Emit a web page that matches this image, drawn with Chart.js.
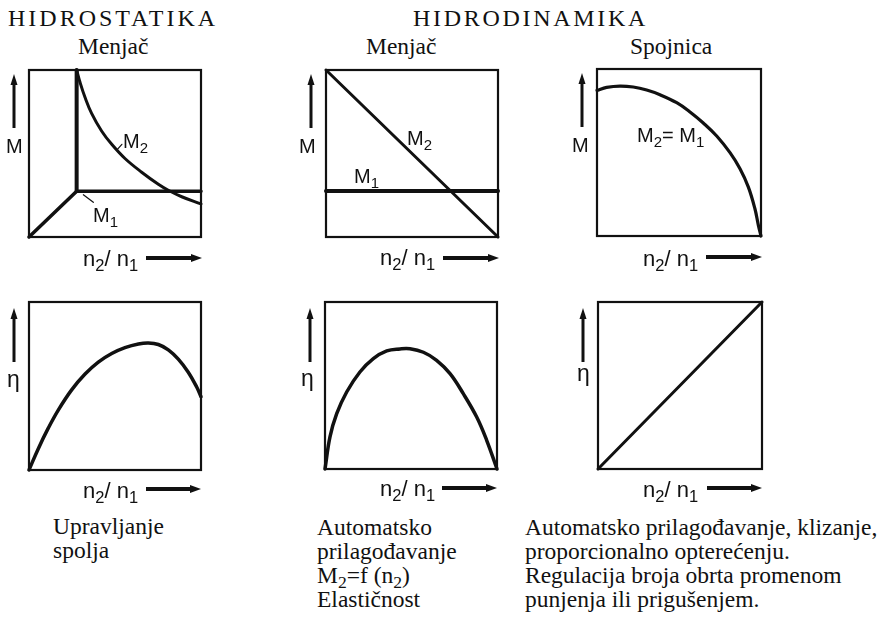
<!DOCTYPE html>
<html>
<head>
<meta charset="utf-8">
<script src="https://cdn.jsdelivr.net/npm/chart.js@4.4.0/dist/chart.umd.min.js"></script>
<style>
  html, body { margin: 0; padding: 0; background: #fff; }
  #wrap { position: relative; width: 878px; height: 621px; overflow: hidden; background: #fff; }
  #wrap canvas { position: absolute; }
  .t { position: absolute; white-space: nowrap; color: #111; }
  .t sub { font-size: 0.75em; vertical-align: -0.3em; line-height: 0; }
</style>
</head>
<body>
<div id="wrap"></div>
<script>
// ---------------- DATA (normalised 0..1 within each panel) ----------------
// Panel 1 – Hidrostatika, Menjač, torque M vs n2/n1
const p1_M1_x = [0, 0.277, 1.0];
const p1_M1_y = [0, 0.274, 0.274];
const p1_vert_x = [0.277, 0.277];
const p1_vert_y = [0.274, 1.0];
const p1_M2_x = [0.277, 0.297, 0.326, 0.364, 0.422, 0.481, 0.558, 0.655, 0.752, 0.810, 0.888, 1.0];
const p1_M2_y = [1.0, 0.925, 0.835, 0.740, 0.635, 0.555, 0.470, 0.388, 0.316, 0.280, 0.241, 0.198];
const p1_lead2_x = [0.51, 0.54];
const p1_lead2_y = [0.52, 0.555];
const p1_lead1_x = [0.316, 0.374];
const p1_lead1_y = [0.253, 0.208];

// Panel 2 – Hidrodinamika, Menjač
const p2_M2_x = [0, 1.0];
const p2_M2_y = [1.0, 0];
const p2_M1_x = [0, 1.0];
const p2_M1_y = [0.275, 0.275];

// Panel 3 – Hidrodinamika, Spojnica (M2 = M1)
const p3_M_x = [0, 0.059, 0.140, 0.221, 0.303, 0.384, 0.486, 0.567, 0.648, 0.730, 0.811, 0.872, 0.923, 0.963, 0.984, 1.0];
const p3_M_y = [0.872, 0.890, 0.898, 0.892, 0.874, 0.846, 0.798, 0.743, 0.677, 0.599, 0.499, 0.403, 0.293, 0.163, 0.064, 0.0];

// Panel 4 – efficiency, Hidrostatika
const p4_eta_x = [0, 0.054, 0.112, 0.171, 0.248, 0.326, 0.403, 0.481, 0.558, 0.636, 0.694, 0.752, 0.810, 0.868, 0.926, 0.975, 1.0];
const p4_eta_y = [0, 0.127, 0.249, 0.358, 0.477, 0.571, 0.642, 0.693, 0.728, 0.750, 0.756, 0.747, 0.715, 0.660, 0.582, 0.494, 0.436];

// Panel 5 – efficiency, Hidrodinamika Menjač
const p5_eta_x = [0, 0.029, 0.068, 0.126, 0.203, 0.281, 0.359, 0.436, 0.494, 0.572, 0.649, 0.727, 0.804, 0.882, 0.940, 1.0];
const p5_eta_y = [0, 0.192, 0.331, 0.461, 0.581, 0.661, 0.707, 0.719, 0.720, 0.699, 0.651, 0.571, 0.451, 0.311, 0.172, 0];

// Panel 6 – efficiency, Spojnica
const p6_eta_x = [0, 1.0];
const p6_eta_y = [0, 1.0];

// Text
const titles = ['HIDROSTATIKA', 'HIDRODINAMIKA'];
const subtitles = ['Menjač', 'Menjač', 'Spojnica'];
const yAxisLabels = ['M', 'M', 'M', 'η', 'η', 'η'];
const xAxisLabel = 'n<sub>2</sub>/ n<sub>1</sub>';
const notes1 = ['Upravljanje', 'spolja'];
const notes2 = ['Automatsko', 'prilagođavanje', 'M<sub>2</sub>=f (n<sub>2</sub>)', 'Elastičnost'];
const notes3 = ['Automatsko prilagođavanje, klizanje,', 'proporcionalno opterećenju.', 'Regulacija broja obrta promenom', 'punjenja ili prigušenjem.'];

// ---------------- RENDERING ----------------
const wrap = document.getElementById('wrap');
const INK = '#111';
const pts = (xs, ys) => xs.map((x, i) => ({ x: x, y: ys[i] }));

const PAD = { left: 30, right: 12, top: 10, bottom: 32 };

const decor = {
  id: 'decor',
  afterDatasetsDraw(chart, args, o) {
    const ctx = chart.ctx, a = chart.chartArea;
    ctx.save();
    ctx.strokeStyle = INK; ctx.fillStyle = INK;
    ctx.lineWidth = 2.2;
    ctx.strokeRect(a.left, a.top, a.right - a.left, a.bottom - a.top);
    // vertical arrow (up)
    const vx = a.left + o.vdx, vt = a.top + o.vtip, vb = a.top + o.vbot;
    ctx.lineWidth = 3;
    ctx.beginPath(); ctx.moveTo(vx, vb); ctx.lineTo(vx, vt + 8); ctx.stroke();
    ctx.beginPath(); ctx.moveTo(vx, vt); ctx.lineTo(vx - 3.5, vt + 11); ctx.lineTo(vx + 3.5, vt + 11); ctx.closePath(); ctx.fill();
    // horizontal arrow (right)
    const hy = a.bottom + o.hdy, ht = a.right + o.htip, hs = a.right + o.htail;
    ctx.lineWidth = 4;
    ctx.beginPath(); ctx.moveTo(hs, hy); ctx.lineTo(ht - 8, hy); ctx.stroke();
    ctx.beginPath(); ctx.moveTo(ht, hy); ctx.lineTo(ht - 11, hy - 4); ctx.lineTo(ht - 11, hy + 4); ctx.closePath(); ctx.fill();
    ctx.restore();
  }
};

function panel(box, datasets, arrows) {
  const c = document.createElement('canvas');
  c.width = box.w + PAD.left + PAD.right;
  c.height = box.h + PAD.top + PAD.bottom;
  c.style.left = (box.x - PAD.left) + 'px';
  c.style.top = (box.y - PAD.top) + 'px';
  c.style.width = c.width + 'px';
  c.style.height = c.height + 'px';
  wrap.appendChild(c);
  new Chart(c, {
    type: 'line',
    data: {
      datasets: datasets.map(d => ({
        data: pts(d.x, d.y),
        borderColor: INK,
        borderWidth: d.w || 3,
        pointRadius: 0,
        fill: false,
        cubicInterpolationMode: 'default',
        tension: d.smooth ? 0.4 : 0,
        borderCapStyle: 'round',
        borderJoinStyle: 'round',
        clip: 8
      }))
    },
    options: {
      responsive: false,
      maintainAspectRatio: false,
      animation: false,
      devicePixelRatio: 1,
      events: [],
      layout: { padding: PAD },
      scales: {
        x: { type: 'linear', min: 0, max: 1, display: false },
        y: { type: 'linear', min: 0, max: 1, display: false }
      },
      plugins: {
        legend: { display: false },
        tooltip: { enabled: false },
        decor: arrows
      }
    },
    plugins: [decor]
  });
}

const arrTop = { vdx: -15, vtip: 4, vbot: 58, hdy: 21, htip: 1, htail: -55 };
const arrBot = { vdx: -15, vtip: 6, vbot: 60, hdy: 19, htip: 0, htail: -55 };

panel({ x: 29, y: 70, w: 172, h: 167 }, [
  { x: p1_M1_x, y: p1_M1_y, w: 3.5 },
  { x: p1_vert_x, y: p1_vert_y, w: 4 },
  { x: p1_M2_x, y: p1_M2_y, w: 3, smooth: true },
  { x: p1_lead2_x, y: p1_lead2_y, w: 1.2 },
  { x: p1_lead1_x, y: p1_lead1_y, w: 1.2 }
], arrTop);

panel({ x: 326, y: 70, w: 172, h: 167 }, [
  { x: p2_M1_x, y: p2_M1_y, w: 4 },
  { x: p2_M2_x, y: p2_M2_y, w: 3 }
], arrTop);

panel({ x: 597, y: 69, w: 164, h: 167 }, [
  { x: p3_M_x, y: p3_M_y, w: 3.2, smooth: true }
], arrTop);

panel({ x: 29, y: 302, w: 172, h: 168 }, [
  { x: p4_eta_x, y: p4_eta_y, w: 3.5, smooth: true }
], arrBot);

panel({ x: 325, y: 302, w: 172, h: 167 }, [
  { x: p5_eta_x, y: p5_eta_y, w: 3.5, smooth: true }
], arrBot);

panel({ x: 598, y: 302, w: 164, h: 167 }, [
  { x: p6_eta_x, y: p6_eta_y, w: 3 }
], arrBot);

// ---------- text helpers ----------
const SERIF = '"Liberation Serif","Times New Roman",Times,serif';
const SANS = '"Liberation Sans",Arial,Helvetica,sans-serif';
function txt(html, left, baseline, serif, size, extra) {
  const d = document.createElement('div');
  d.className = 't';
  d.style.left = left + 'px';
  d.style.top = (baseline - (serif ? 0.8375 : 0.8465) * size) + 'px';
  d.style.fontFamily = serif ? SERIF : SANS;
  d.style.fontSize = size + 'px';
  d.style.lineHeight = size + 'px';
  if (extra) Object.assign(d.style, extra);
  d.innerHTML = html;
  wrap.appendChild(d);
}

// titles
txt(titles[0], 8, 26.5, true, 24, { letterSpacing: '3px' });
txt(titles[1], 413, 26.5, true, 24, { letterSpacing: '2.7px' });
txt(subtitles[0], 78, 54.5, true, 23.5);
txt(subtitles[1], 366, 54.5, true, 23.5);
txt(subtitles[2], 630, 54.5, true, 23.5);

// y axis labels
txt(yAxisLabels[0], 6, 153, false, 20);
txt(yAxisLabels[1], 299, 153, false, 20);
txt(yAxisLabels[2], 572, 152, false, 20);
txt(yAxisLabels[3], 7, 387, false, 23);
txt(yAxisLabels[4], 301, 386, false, 23);
txt(yAxisLabels[5], 577, 381, false, 23);

// x axis labels
txt(xAxisLabel, 83, 266.5, false, 22);
txt(xAxisLabel, 380, 266, false, 22);
txt(xAxisLabel, 643, 266.5, false, 22);
txt(xAxisLabel, 83, 499, false, 22);
txt(xAxisLabel, 380, 497, false, 22);
txt(xAxisLabel, 643, 498, false, 22);

// curve labels
txt('M<sub>2</sub>', 123, 148, false, 20);
txt('M<sub>1</sub>', 93, 222, false, 20);
txt('M<sub>2</sub>', 407, 145, false, 20);
txt('M<sub>1</sub>', 354, 183, false, 20);
txt('M<sub>2</sub>= M<sub>1</sub>', 637, 142, false, 20);

// notes
notes1.forEach((s, i) => txt(s, 53, 535 + 24 * i, true, 23.5));
notes2.forEach((s, i) => txt(s, 317, 536 + 24 * i, true, 23.5));
notes3.forEach((s, i) => txt(s, 525, 536 + 24 * i, true, 23.5));
</script>
</body>
</html>
